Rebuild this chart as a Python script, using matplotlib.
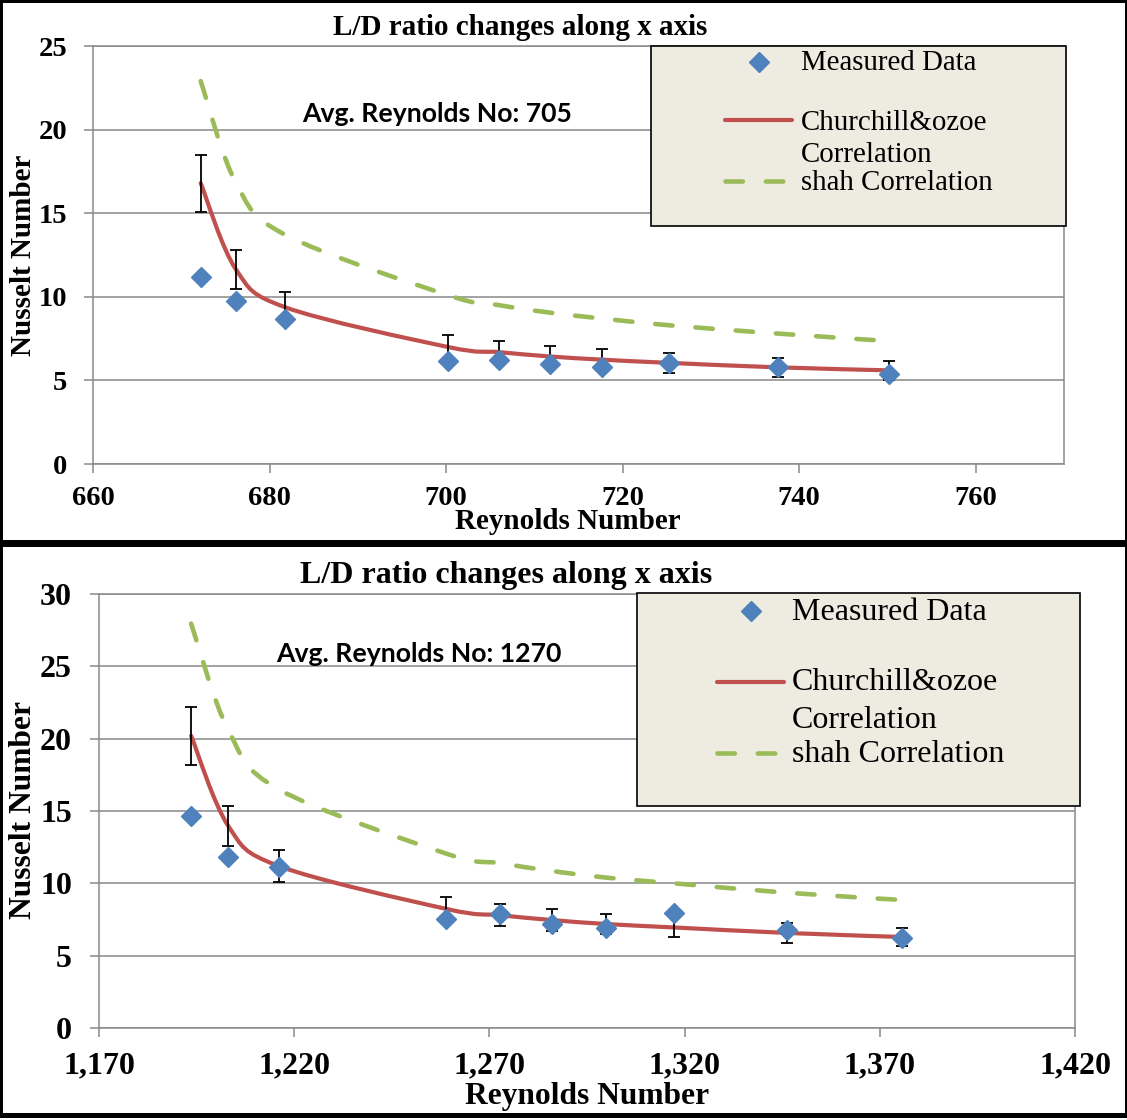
import numpy as np
import matplotlib
matplotlib.use("Agg")
import matplotlib.pyplot as plt
from matplotlib.path import Path
from matplotlib.patches import PathPatch, Rectangle
from matplotlib.lines import Line2D
from matplotlib.ticker import FuncFormatter, FixedLocator

# ---- data: upper panel (average Re 705) ----
re_top = [672.2, 676.2, 681.8, 700.2, 706.0, 711.8, 717.7, 725.2, 737.6, 750.2]
nu_meas_top = [11.2, 9.75, 8.69, 6.16, 6.22, 5.98, 5.78, 6.06, 5.78, 5.36]
nu_churchill_top = [16.8, 11.63, 9.37, 7.0, 6.69, 6.43, 6.24, 6.05, 5.78, 5.6]
err_churchill_top = [1.7, 1.17, 0.94, 0.70, 0.67, 0.64, 0.62, 0.61, 0.58, 0.56]
nu_shah_top = [22.9, 16.8, 13.7, 10.1, 9.5, 9.05, 8.7, 8.3, 7.8, 7.35]
xticks_top = [660, 680, 700, 720, 740, 760]
yticks_top = [0, 5, 10, 15, 20, 25]

# ---- data: lower panel (average Re 1270) ----
re_bot = [1193.6, 1203.1, 1216.0, 1259.0, 1272.6, 1286.1, 1299.8, 1317.3, 1346.3, 1375.7]
nu_meas_bot = [14.62, 11.82, 11.13, 7.56, 7.91, 7.22, 6.92, 7.98, 6.8, 6.19]
nu_churchill_bot = [20.2, 13.97, 11.2, 8.23, 7.8, 7.46, 7.19, 6.95, 6.57, 6.29]
err_churchill_bot = [2.0, 1.4, 1.12, 0.82, 0.78, 0.75, 0.72, 0.69, 0.66, 0.63]
nu_shah_bot = [27.95, 20.6, 16.5, 12.05, 11.4, 10.85, 10.4, 10.0, 9.35, 8.85]
xticks_bot = [1170, 1220, 1270, 1320, 1370, 1420]
yticks_bot = [0, 5, 10, 15, 20, 25, 30]

title_text = "L/D ratio changes along x axis"
xlabel_text = "Reynolds Number"
ylabel_text = "Nusselt Number"
legend_labels = ["Measured Data", "Churchill&ozoe", "Correlation", "shah Correlation"]
avg_top = "Avg. Reynolds No: 705"
avg_bot = "Avg. Reynolds No: 1270"

BLUE = "#4F81BD"
RED = "#C0504D"
GREEN = "#9BBB59"
GRID = "#898989"
LEG_FACE = "#EEECE1"
SERIF = "Liberation Serif"

plt.rcParams["font.family"] = [SERIF, "DejaVu Serif"]
plt.rcParams["font.weight"] = "bold"

W, H = 1127, 1120
fig = plt.figure(figsize=(W / 100, H / 100), dpi=100)
fig.patch.set_facecolor("white")


def fx(px):
    return px / W


def fy(py):
    return 1 - py / H


def smooth_path(x, y):
    """Cubic Bezier path through the points (spreadsheet-style smoothed line)."""
    pts = np.column_stack([x, y]).astype(float)
    n = len(pts)
    verts = [pts[0]]
    codes = [Path.MOVETO]
    for i in range(n - 1):
        p0 = pts[max(i - 1, 0)]
        p1 = pts[i]
        p2 = pts[i + 1]
        p3 = pts[min(i + 2, n - 1)]
        verts += [p1 + (p2 - p0) / 6.0, p2 - (p3 - p1) / 6.0, p2]
        codes += [Path.CURVE4] * 3
    return Path(verts, codes)


def band(x0, y0, x1, y1):
    fig.add_artist(Rectangle((fx(x0), fy(y1)), fx(x1) - fx(x0), fy(y0) - fy(y1),
                             transform=fig.transFigure, facecolor="black",
                             edgecolor="none", zorder=10))


GREEN_LW = 3.3
GREEN_DASH = (0, (3.8, 5.0))


def draw_panel(box, re, meas, church, err, shah, xticks, yticks, fs,
               tick_pad_x, tick_pad_y):
    l, t, r, b = box
    ax = fig.add_axes([fx(l), fy(b), fx(r) - fx(l), fy(t) - fy(b)])
    ax.set_xlim(xticks[0], xticks[-1] + (10 if xticks[-1] < 1000 else 0))
    ax.set_ylim(yticks[0], yticks[-1])
    ax.xaxis.set_major_locator(FixedLocator(xticks))
    ax.yaxis.set_major_locator(FixedLocator(yticks))
    ax.xaxis.set_major_formatter(FuncFormatter(lambda v, p: f"{v:,.0f}"))
    ax.yaxis.set_major_formatter(FuncFormatter(lambda v, p: f"{v:.0f}"))
    ax.grid(axis="y", color=GRID, lw=1.1)
    ax.set_axisbelow(True)
    for s in ax.spines.values():
        s.set_color(GRID)
        s.set_linewidth(1.1)
    ax.tick_params(axis="both", direction="out", length=6.5, width=1.1, color=GRID,
                   labelsize=fs)
    ax.tick_params(axis="x", pad=tick_pad_x)
    ax.tick_params(axis="y", pad=tick_pad_y)

    ax.add_patch(PathPatch(smooth_path(re, shah), fill=False, edgecolor=GREEN,
                           lw=GREEN_LW, linestyle=GREEN_DASH, capstyle="round",
                           zorder=2))
    ax.add_patch(PathPatch(smooth_path(re, church), fill=False, edgecolor=RED,
                           lw=3.0, capstyle="round", zorder=2.5))
    ax.errorbar(re, church, yerr=err, fmt="none", ecolor="black", elinewidth=1.3,
                capsize=4, capthick=1.3, zorder=3)
    ax.plot(re, meas, linestyle="none", marker="D", markersize=9.8,
            markerfacecolor=BLUE, markeredgecolor=BLUE, zorder=4)
    return ax


def draw_legend(box, diamond_xy, line_x, y_red, y_green, text_x, baselines, fs, ms):
    l, t, r, b = box
    fig.add_artist(Rectangle((fx(l), fy(b)), fx(r) - fx(l), fy(t) - fy(b),
                             transform=fig.transFigure, facecolor=LEG_FACE,
                             edgecolor="black", lw=1.2, zorder=6))
    fig.add_artist(Line2D([fx(diamond_xy[0])], [fy(diamond_xy[1])], marker="D",
                          markersize=ms, color=BLUE, linestyle="none",
                          transform=fig.transFigure, zorder=7))
    fig.add_artist(Line2D([fx(line_x[0]), fx(line_x[1])], [fy(y_red), fy(y_red)],
                          color=RED, lw=3.0, solid_capstyle="round",
                          transform=fig.transFigure, zorder=7))
    fig.add_artist(Line2D([fx(line_x[0]), fx(line_x[1])], [fy(y_green), fy(y_green)],
                          color=GREEN, lw=GREEN_LW, linestyle=GREEN_DASH,
                          dash_capstyle="round", transform=fig.transFigure, zorder=7))
    for txt, yb in zip(legend_labels, baselines):
        fig.text(fx(text_x), fy(yb), txt, fontweight="normal", fontsize=fs,
                 ha="left", va="baseline", zorder=8)


def fit_text(x, y, s, target_w, base_fs, **kw):
    t = fig.text(fx(x), fy(y), s, fontsize=base_fs, **kw)
    fig.canvas.draw()
    w = t.get_window_extent().width
    t.set_fontsize(base_fs * target_w / w)
    return t


# ---- upper panel ----
ax1 = draw_panel((93, 46, 1064, 464), re_top, nu_meas_top, nu_churchill_top,
                 err_churchill_top, nu_shah_top, xticks_top, yticks_top, 20.5,
                 tick_pad_x=9, tick_pad_y=12)
fig.text(fx(520), fy(35), title_text, fontsize=21, ha="center", va="baseline")
fig.text(fx(568), fy(529), xlabel_text, fontsize=21, ha="center", va="baseline")
fig.text(fx(24), fy(255), ylabel_text, fontsize=21, ha="center", va="center",
         rotation=90)
fit_text(437, 114, avg_top, 271, 16, family="Lato", fontweight="bold",
         ha="center", va="center")
draw_legend((651, 46, 1066, 226), (759, 62), (725, 792), 120, 181, 801,
            [70, 129.5, 162.5, 189.5], 20.8, 10)

# ---- lower panel ----
ax2 = draw_panel((99, 594, 1075, 1028), re_bot, nu_meas_bot, nu_churchill_bot,
                 err_churchill_bot, nu_shah_bot, xticks_bot, yticks_bot, 23,
                 tick_pad_x=10, tick_pad_y=13)
fig.text(fx(506), fy(583), title_text, fontsize=23, ha="center", va="baseline")
fig.text(fx(587), fy(1104), xlabel_text, fontsize=22.7, ha="center", va="baseline")
fig.text(fx(24), fy(810), ylabel_text, fontsize=22.7, ha="center", va="center",
         rotation=90)
fit_text(419, 654, avg_bot, 286, 17, family="Lato", fontweight="bold",
         ha="center", va="center")
draw_legend((637, 593, 1080, 806), (751, 611), (717, 784), 682, 753, 792,
            [620.5, 690.5, 728.5, 762.5], 23, 10)

# ---- panel frames ----
band(0, 0, 3, 1118)
band(1124.5, 0, 1127, 1118)
band(0, 0, 1127, 3)
band(0, 540, 1127, 547)
band(0, 1113, 1127, 1118)

fig.savefig("out.png", dpi=100, facecolor="white")
